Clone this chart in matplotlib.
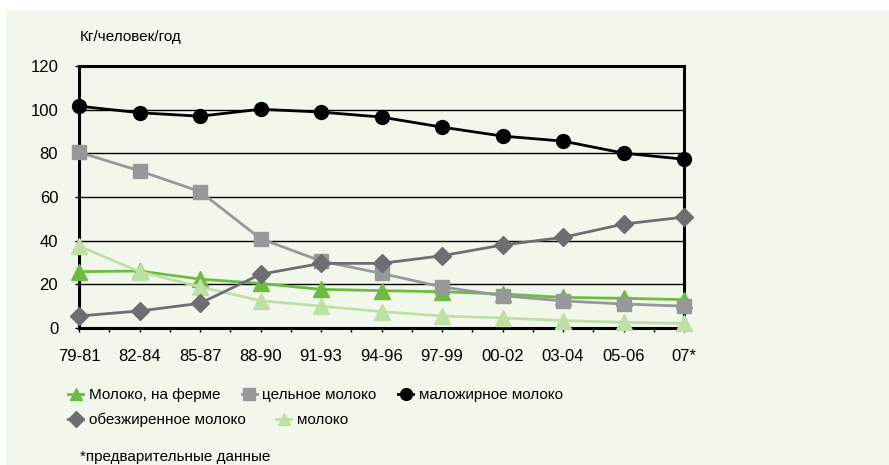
import matplotlib
matplotlib.use('Agg')
import matplotlib.pyplot as plt
import matplotlib.patches as mpatches
from matplotlib.ticker import FixedLocator

plt.rcParams['font.family'] = ['Liberation Sans Narrow', 'Liberation Sans', 'DejaVu Sans']

# Years (periods) and per-capita consumption, kg/person/year
periods = ['79-81', '82-84', '85-87', '88-90', '91-93', '94-96',
           '97-99', '00-02', '03-04', '05-06', '07*']
farm_milk = [25.8, 26.1, 22.4, 20.4, 17.7, 17.1, 16.6, 15.6, 14.0, 13.6, 13.0]
whole_milk = [80.5, 72.0, 62.5, 40.9, 30.7, 25.0, 18.8, 14.8, 12.4, 11.0, 10.0]
lowfat_milk = [101.6, 98.6, 97.0, 100.2, 98.9, 96.6, 92.0, 87.9, 85.6, 80.1, 77.3]
skim_milk = [5.5, 7.8, 11.3, 24.6, 29.6, 29.6, 33.1, 38.0, 41.5, 47.6, 50.8]
other_milk = [37.5, 25.8, 18.9, 12.5, 10.0, 7.5, 5.5, 4.6, 3.4, 2.6, 2.1]

bg = '#f2f7ec'
fig = plt.figure(figsize=(8.89, 4.65), dpi=100)
fig.patch.set_facecolor('white')
fig.patches.append(mpatches.Rectangle((6 / 889, 0), 1, 1 - 10 / 465, transform=fig.transFigure,
                                      facecolor=bg, edgecolor='none', zorder=-10))

ax = fig.add_axes([79 / 889, 1 - 328 / 465, (684 - 79) / 889, (328 - 66) / 465])
ax.set_facecolor(bg)
x = list(range(len(periods)))

line_kw = dict(lw=2, clip_on=False)
l1, = ax.plot(x, farm_milk, color='#6cbd3f', marker='^', ms=11, zorder=7, **line_kw)
l2, = ax.plot(x, whole_milk, color='#97989b', marker='s', ms=10, zorder=8, **line_kw)
l3, = ax.plot(x, lowfat_milk, color='black', marker='o', ms=10, zorder=9, **line_kw)
l4, = ax.plot(x, skim_milk, color='#6d6e71', marker='D', ms=9, zorder=8, **line_kw)
l5, = ax.plot(x, other_milk, color='#bfe0a5', marker='^', ms=11, zorder=7, **line_kw)

ax.set_xlim(0, 10)
ax.set_ylim(0, 120)
ax.set_yticks(range(0, 121, 20))
ax.yaxis.grid(True, color='black', lw=1)
ax.set_axisbelow(True)
ax.set_xticks(x)
ax.set_xticklabels(periods)
ax.xaxis.set_minor_locator(FixedLocator([i + 0.5 for i in range(10)]))
ax.tick_params(axis='both', labelsize=12, length=3, width=1, colors='black')
ax.tick_params(axis='x', which='minor', length=3, width=1)
ax.tick_params(axis='x', pad=12)
ax.tick_params(axis='y', pad=12)
for s in ax.spines.values():
    s.set_linewidth(2.2)
    s.set_color('black')
    s.set_zorder(6)

fig.text(80 / 889, 1 - 37 / 465, 'Кг/человек/год', fontsize=11, va='center', ha='left')

leg_kw = dict(frameon=False, fontsize=11, handlelength=1.0, handletextpad=0.35,
              borderaxespad=0, markerscale=0.85)
fig.legend([l1, l2, l3], ['Молоко, на ферме', 'цельное молоко', 'маложирное молоко'],
           loc='center left', bbox_to_anchor=(62 / 889, 1 - 395 / 465), ncol=3,
           columnspacing=1.4, **leg_kw)
fig.legend([l4, l5], ['обезжиренное молоко', 'молоко'],
           loc='center left', bbox_to_anchor=(62 / 889, 1 - 420 / 465), ncol=2,
           columnspacing=2.0, **leg_kw)

fig.text(80 / 889, 1 - 457 / 465, '*предварительные данные', fontsize=11, va='center', ha='left')

fig.savefig('out.png', dpi=100, facecolor=fig.get_facecolor())
